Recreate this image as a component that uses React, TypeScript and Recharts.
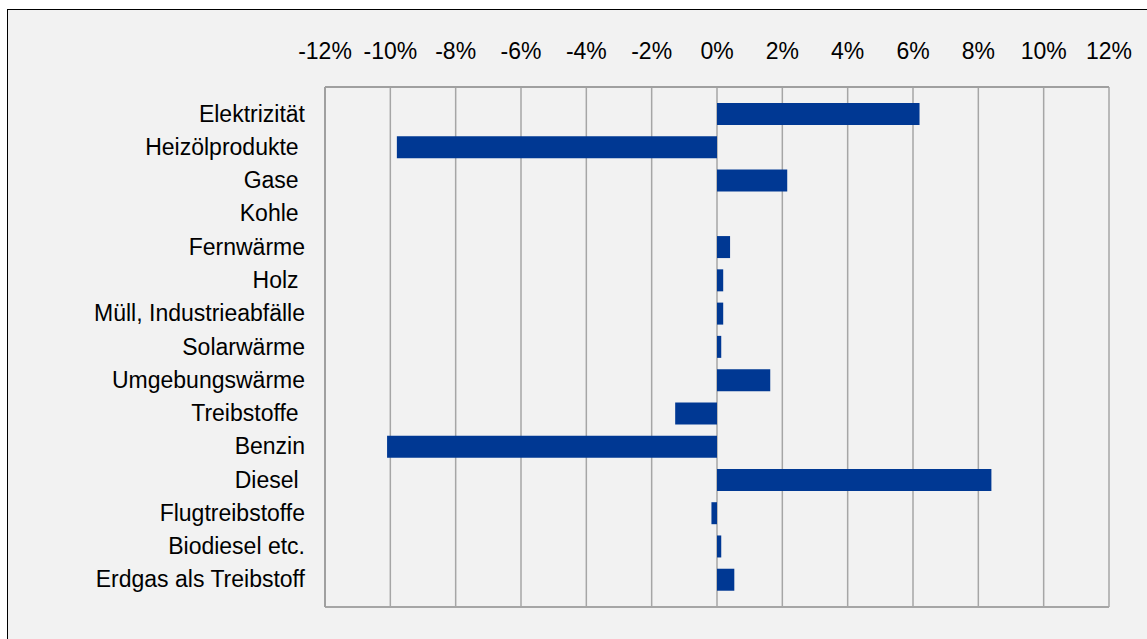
import { BarChart, Bar, XAxis, YAxis, CartesianGrid } from 'recharts';

// category labels (trailing spaces as in the source sheet)
const categories = [
  'Elektrizität',
  'Heizölprodukte ',
  'Gase ',
  'Kohle ',
  'Fernwärme',
  'Holz ',
  'Müll, Industrieabfälle',
  'Solarwärme',
  'Umgebungswärme',
  'Treibstoffe ',
  'Benzin',
  'Diesel ',
  'Flugtreibstoffe',
  'Biodiesel etc.',
  'Erdgas als Treibstoff',
];

// change in percent
const changes = [6.2, -9.8, 2.15, 0, 0.4, 0.19, 0.19, 0.13, 1.63, -1.28, -10.1, 8.4, -0.17, 0.13, 0.53];

const xTicks = [-12, -10, -8, -6, -4, -2, 0, 2, 4, 6, 8, 10, 12];

const data = categories.map((name, i) => ({ name, value: changes[i] }));

const FONT = '"Liberation Sans", Arial, sans-serif';
const GRID = '#a6a6a6';

const CategoryTick = (props: any) => {
  const { y, payload } = props;
  return (
    <text
      x={297}
      y={y}
      dy={8}
      textAnchor="end"
      fontFamily={FONT}
      fontSize={23}
      fill="#000"
      style={{ whiteSpace: 'pre' }}
    >
      {payload.value}
    </text>
  );
};

const App = () => {
  return (
    <div
      style={{
        position: 'absolute',
        left: 7,
        top: 9,
        width: 1150,
        height: 640,
        border: '1px solid #000',
        background: '#f2f2f2',
      }}
    >
      <BarChart
        width={1140}
        height={630}
        data={data}
        layout="vertical"
        margin={{ top: 20, right: 39, bottom: 3, left: 0 }}
        barSize={22}
      >
        <CartesianGrid xAxisId="top" horizontal={false} vertical stroke={GRID} strokeWidth={1.5} />
        <XAxis
          xAxisId="top"
          orientation="top"
          type="number"
          domain={[-12, 12]}
          ticks={xTicks}
          height={57}
          axisLine={{ stroke: '#a0a0a0', strokeWidth: 2 }}
          tickLine={false}
          tickSize={0}
          tickMargin={28}
          tickFormatter={(v: number) => `${v}%`}
          tick={{ fontFamily: FONT, fontSize: 23, fill: '#000' }}
        />
        <XAxis
          xAxisId="bottom"
          orientation="bottom"
          type="number"
          domain={[-12, 12]}
          ticks={xTicks}
          height={30}
          axisLine={{ stroke: GRID, strokeWidth: 2 }}
          tickLine={{ stroke: GRID, strokeWidth: 1.5 }}
          tickSize={7}
          tickFormatter={() => ''}
        />
        <YAxis
          type="category"
          dataKey="name"
          width={317}
          padding={{ top: 10, bottom: 11 }}
          axisLine={{ stroke: '#a0a0a0', strokeWidth: 2 }}
          tickLine={false}
          tick={<CategoryTick />}
          interval={0}
        />
        <Bar xAxisId="top" dataKey="value" fill="#003893" isAnimationActive={false} />
      </BarChart>
    </div>
  );
};

export default App;
